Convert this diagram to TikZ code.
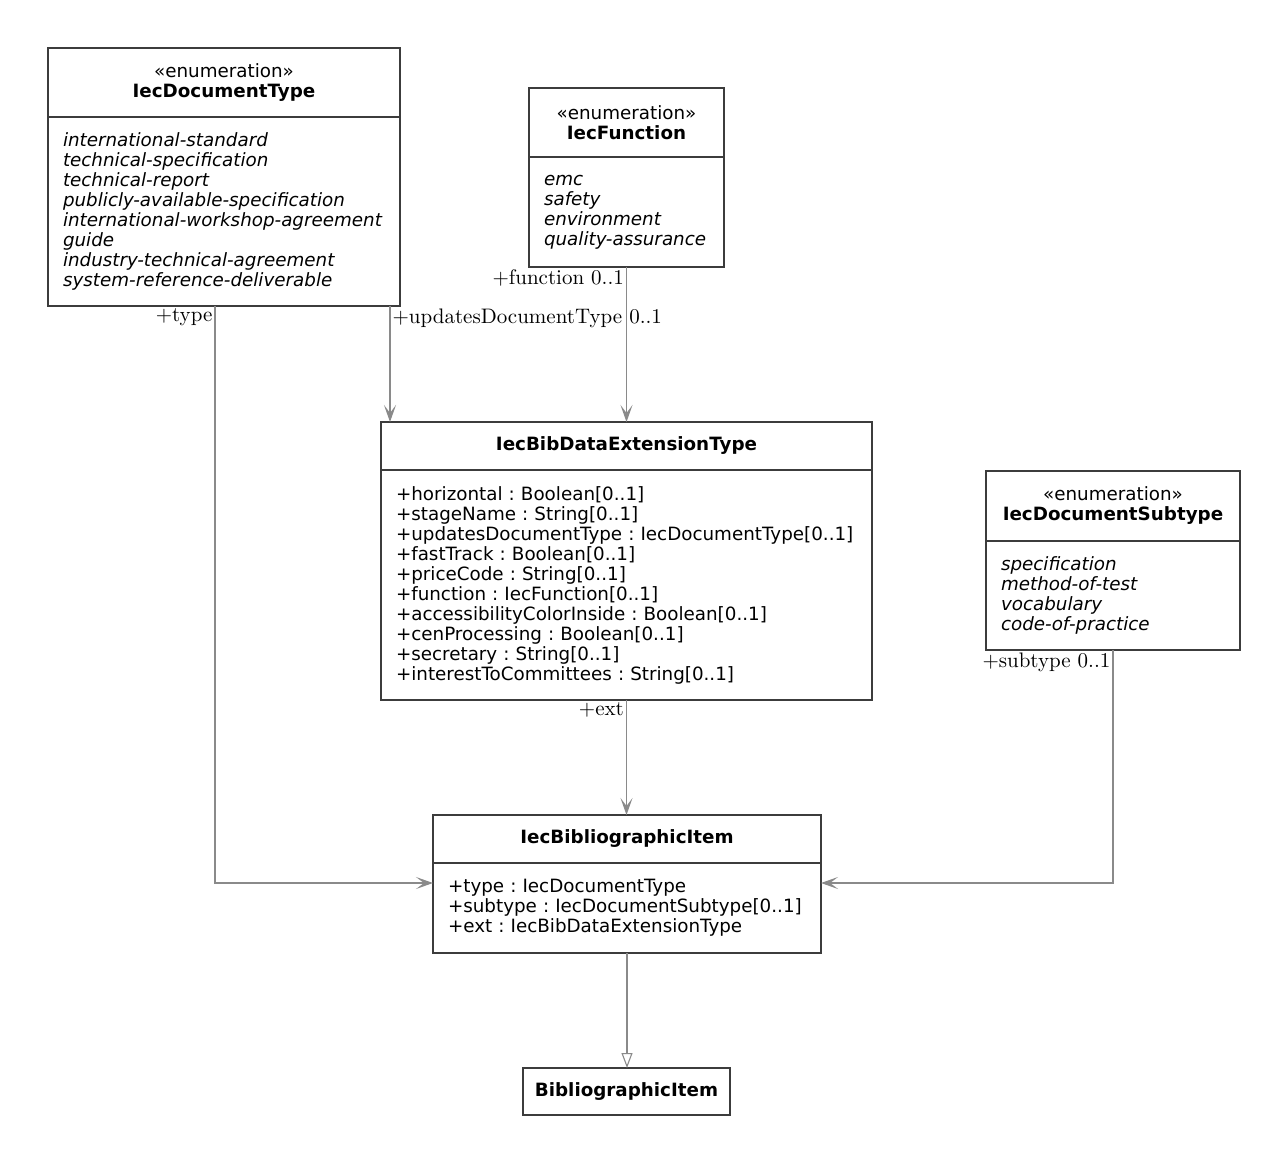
\documentclass[tikz,border=0pt]{standalone}
\usepackage{fontspec}
\usepackage{tikz}
\usetikzlibrary{arrows.meta,positioning}

\newfontfamily\dejavu{DejaVu Sans}
\newfontfamily\lblfont{lmroman10-regular.otf}
\definecolor{boxc}{HTML}{3C3C3C}
\definecolor{linec}{HTML}{8A8A8A}
\hyphenpenalty=10000
\exhyphenpenalty=10000
\frenchspacing

\begin{document}
\begin{tikzpicture}[x=1pt,y=-1pt,node distance=0pt,
    cls/.style={draw=boxc,line width=1.4pt,inner xsep=15pt,inner ysep=0pt,
                outer sep=0pt,font=\dejavu\fontsize{18.3}{20}\selectfont},
    hd/.style={cls,align=center,anchor=north west},
    bd/.style={cls,align=left},
    role/.style={font=\lblfont\fontsize{21}{24}\selectfont,inner sep=2pt},
    assoc/.style={draw=linec,line width=1.2pt,
                  -{Stealth[length=17pt,width=12pt,inset=8pt]}},
    gen/.style={draw=linec,line width=1.1pt,
                -{Triangle[open,length=15pt,width=11pt]}}]

  \useasboundingbox (0,0) rectangle (1288,1164);

  \node[hd,text width=322pt,minimum height=69pt] (typeh) at (48,48)
        {«enumeration»\\\textbf{IecDocumentType}};
  \node[bd,text width=322pt,minimum height=189pt,below=of typeh] (typeb)
        {\itshape international-standard\\technical-specification\\technical-report\\
         publicly-available-specification\\international-workshop-agreement\\guide\\
         industry-technical-agreement\\system-reference-deliverable};

  \node[hd,text width=165pt,minimum height=69pt] (funh) at (529,88)
        {«enumeration»\\\textbf{IecFunction}};
  \node[bd,text width=165pt,minimum height=110pt,below=of funh] (funb)
        {\itshape emc\\safety\\environment\\quality-assurance};

  \node[hd,text width=461pt,minimum height=48pt] (exth) at (381,422)
        {\textbf{IecBibDataExtensionType}};
  \node[bd,text width=461pt,minimum height=230pt,below=of exth] (extb)
        {+horizontal : Boolean[0..1]\\+stageName : String[0..1]\\
         +updatesDocumentType : IecDocumentType[0..1]\\+fastTrack : Boolean[0..1]\\
         +priceCode : String[0..1]\\+function : IecFunction[0..1]\\
         +accessibilityColorInside : Boolean[0..1]\\+cenProcessing : Boolean[0..1]\\
         +secretary : String[0..1]\\+interestToCommittees : String[0..1]};

  \node[hd,text width=224pt,minimum height=70pt] (subh) at (986,471)
        {«enumeration»\\\textbf{IecDocumentSubtype}};
  \node[bd,text width=224pt,minimum height=109pt,below=of subh] (subb)
        {\itshape specification\\method-of-test\\vocabulary\\code-of-practice};

  \node[hd,text width=358pt,minimum height=48pt] (itemh) at (433,815)
        {\textbf{IecBibliographicItem}};
  \node[bd,text width=358pt,minimum height=90pt,below=of itemh] (itemb)
        {+type : IecDocumentType\\+subtype : IecDocumentSubtype[0..1]\\
         +ext : IecBibDataExtensionType};

  \node[hd,inner xsep=8pt,text width=191pt,minimum height=47pt] (bib) at (523,1068)
        {\textbf{BibliographicItem}};

  \coordinate (tp) at ([xshift=-9pt]typeb.south);
  \coordinate (up) at ([xshift=-10pt]typeb.south east);

  \draw[assoc] (tp) |- ([yshift=25pt]itemb.west)
        node[role,pos=0,anchor=north east] {+type};
  \draw[assoc] (up) -- (up |- exth.north)
        node[role,pos=0,anchor=north west] {+updatesDocumentType 0..1};
  \draw[assoc] (funb.south) -- (funb.south |- exth.north)
        node[role,pos=0,anchor=north east] {+function 0..1};
  \draw[assoc] (extb.south) -- (extb.south |- itemh.north)
        node[role,pos=0,anchor=north east] {+ext};
  \draw[assoc] (subb.south) |- ([yshift=25pt]itemb.east)
        node[role,pos=0,anchor=north east] {+subtype 0..1};
  \draw[gen] (itemb.south) -- (itemb.south |- bib.north);
\end{tikzpicture}
\end{document}
